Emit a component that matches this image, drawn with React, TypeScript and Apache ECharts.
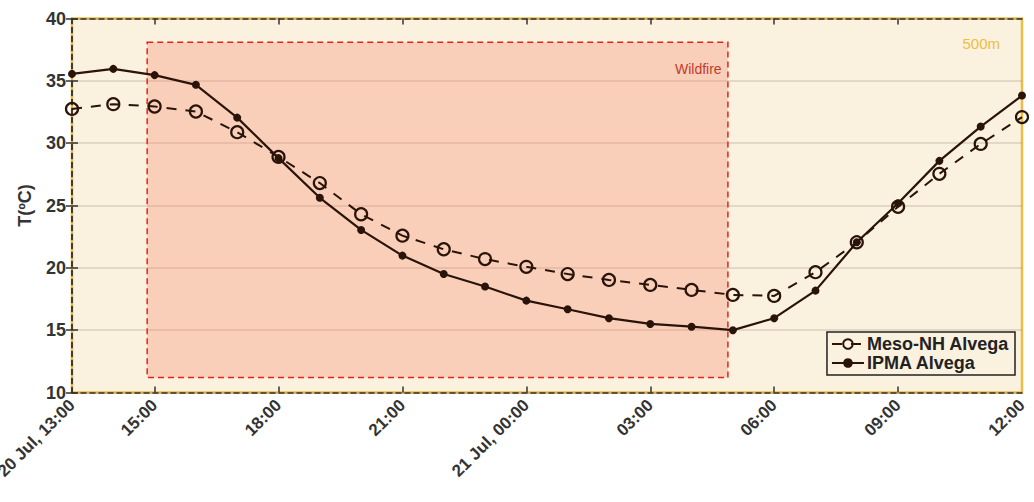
import React, { useEffect, useRef } from "react";
import * as echarts from "echarts";

// hourly times from 20 Jul 13:00 to 21 Jul 12:00
const times = [
  "13:00", "14:00", "15:00", "16:00", "17:00", "18:00", "19:00", "20:00",
  "21:00", "22:00", "23:00", "00:00", "01:00", "02:00", "03:00", "04:00",
  "05:00", "06:00", "07:00", "08:00", "09:00", "10:00", "11:00", "12:00",
];

const mesoNH = [
  32.75, 33.13, 32.94, 32.54, 30.88, 28.9, 26.8, 24.3, 22.58, 21.49, 20.7, 20.08,
  19.5, 19.03, 18.63, 18.23, 17.83, 17.75, 19.65, 22.05, 24.9, 27.54, 29.94, 32.09,
];

const ipma = [
  35.56, 35.96, 35.46, 34.68, 32.05, 28.8, 25.62, 23.04, 20.98, 19.5, 18.5, 17.37,
  16.68, 15.96, 15.5, 15.28, 15.0, 15.96, 18.17, 22.05, 25.18, 28.58, 31.33, 33.82,
];

// tick labels on the time axis
const tickTimes = ["13:00", "15:00", "18:00", "21:00", "00:00", "03:00", "06:00", "09:00", "12:00"];
const tickLabels = ["20 Jul, 13:00", "15:00", "18:00", "21:00", "21 Jul, 00:00", "03:00", "06:00", "09:00", "12:00"];

// wildfire period (hours after 20 Jul 13:00) and its temperature span
const wildfireHours = [1.82, 15.88];
const wildfireTemps = [11.2, 38.1];

const yTicks = [10, 15, 20, 25, 30, 35, 40];

const FONT = "'Liberation Sans', Arial, Helvetica, sans-serif";
const DARK = "#2a140a";

export default function App() {
  const ref = useRef<HTMLDivElement>(null);

  useEffect(() => {
    if (!ref.current) return;
    const chart = echarts.init(ref.current, null, { renderer: "svg" });

    const hours = times.map((_, i) => i);
    const labelPos = tickTimes.map((t, k) => {
      if (k === tickTimes.length - 1) return times.lastIndexOf(t);
      return times.indexOf(t);
    });
    const innerTicks = labelPos.slice(1, -1);
    const labelMap: Record<number, string> = {};
    labelPos.forEach((p, k) => (labelMap[p] = tickLabels[k]));

    const axisLineDashed = {
      show: true,
      lineStyle: { color: "#333", width: 1.5, type: [5, 4] as any },
    };

    const option: any = {
      animation: false,
      textStyle: { fontFamily: FONT },
      grid: {
        left: 72,
        right: 12,
        top: 18.5,
        bottom: 109.5,
        containLabel: false,
        outerBoundsMode: "none",
        show: true,
        backgroundColor: "#FAF1DF",
        borderColor: "#EDBE45",
        borderWidth: 2.5,
      },
      legend: {
        orient: "vertical",
        right: 19,
        top: 332,
        padding: [3, 6, 3, 4],
        itemGap: 1,
        itemWidth: 32,
        itemHeight: 12,
        backgroundColor: "#FAF1DF",
        borderColor: "#222",
        borderWidth: 1.5,
        textStyle: { fontFamily: FONT, fontSize: 18, fontWeight: "bold", color: "#222", padding: [0, 0, 0, -2] },
        data: ["Meso-NH Alvega", "IPMA Alvega"],
      },
      xAxis: [
        {
          type: "value",
          min: 0,
          max: hours[hours.length - 1],
          position: "bottom",
          axisLine: axisLineDashed,
          axisTick: {
            show: true,
            inside: true,
            length: 6,
            customValues: innerTicks,
            lineStyle: { color: "#333", width: 1.5 },
          },
          axisLabel: {
            customValues: labelPos,
            formatter: (v: number) => labelMap[v] ?? "",
            rotate: 45,
            margin: 10,
            fontFamily: FONT,
            fontSize: 17,
            fontWeight: "bold",
            color: "#333",
          },
          splitLine: { show: false },
        },
        {
          type: "value",
          min: 0,
          max: hours[hours.length - 1],
          position: "top",
          axisLine: axisLineDashed,
          axisTick: {
            show: true,
            inside: true,
            length: 6,
            customValues: innerTicks,
            lineStyle: { color: "#333", width: 1.5 },
          },
          axisLabel: { show: false },
          splitLine: { show: false },
        },
      ],
      yAxis: [
        {
          type: "value",
          min: yTicks[0],
          max: yTicks[yTicks.length - 1],
          interval: 5,
          name: "T(ºC)",
          nameLocation: "middle",
          nameGap: 38,
          nameTextStyle: { fontFamily: FONT, fontSize: 18, fontWeight: "bold", color: "#333" },
          axisLine: axisLineDashed,
          axisTick: { show: true, inside: true, length: 6, lineStyle: { color: "#333", width: 1.5 } },
          axisLabel: { fontFamily: FONT, fontSize: 18, fontWeight: "bold", color: "#333", margin: 6 },
          splitLine: { show: true, lineStyle: { color: "rgba(140,120,100,0.28)", width: 1.5 } },
        },
        {
          type: "value",
          min: yTicks[0],
          max: yTicks[yTicks.length - 1],
          interval: 5,
          position: "right",
          axisLine: axisLineDashed,
          axisTick: { show: true, inside: true, length: 6, lineStyle: { color: "#333", width: 1.5 } },
          axisLabel: { show: false },
          splitLine: { show: false },
        },
      ],
      graphic: [
        {
          type: "text",
          right: 34,
          top: 36,
          style: { text: "500m", fill: "#EDBE45", fontFamily: FONT, fontSize: 15 },
        },
      ],
      series: [
        {
          name: "Meso-NH Alvega",
          type: "line",
          data: hours.map((h, i) => [h, mesoNH[i]]),
          symbol: "circle",
          symbolSize: 12,
          lineStyle: { color: DARK, width: 2, type: [10, 9] },
          itemStyle: { color: "rgba(0,0,0,0)", borderColor: DARK, borderWidth: 2.2 },
          z: 3,
          markArea: {
            silent: true,
            itemStyle: {
              color: "rgba(248,130,100,0.3)",
              borderColor: "#E8231E",
              borderWidth: 1.5,
              borderType: [6, 4],
            },
            label: {
              show: true,
              position: "insideTopRight",
              offset: [-2, 16],
              color: "#C43A2E",
              fontFamily: FONT,
              fontSize: 14,
            },
            data: [
              [
                { name: "Wildfire", xAxis: wildfireHours[0], yAxis: wildfireTemps[1] },
                { xAxis: wildfireHours[1], yAxis: wildfireTemps[0] },
              ],
            ],
          },
        },
        {
          name: "IPMA Alvega",
          type: "line",
          data: hours.map((h, i) => [h, ipma[i]]),
          symbol: "circle",
          symbolSize: 8,
          lineStyle: { color: DARK, width: 2.2 },
          itemStyle: { color: DARK },
          z: 4,
        },
      ],
    };

    chart.setOption(option);
    return () => chart.dispose();
  }, []);

  return (
    <div
      ref={ref}
      style={{ position: "fixed", left: 0, top: 0, width: 1034, height: 502, background: "#fff" }}
    />
  );
}
